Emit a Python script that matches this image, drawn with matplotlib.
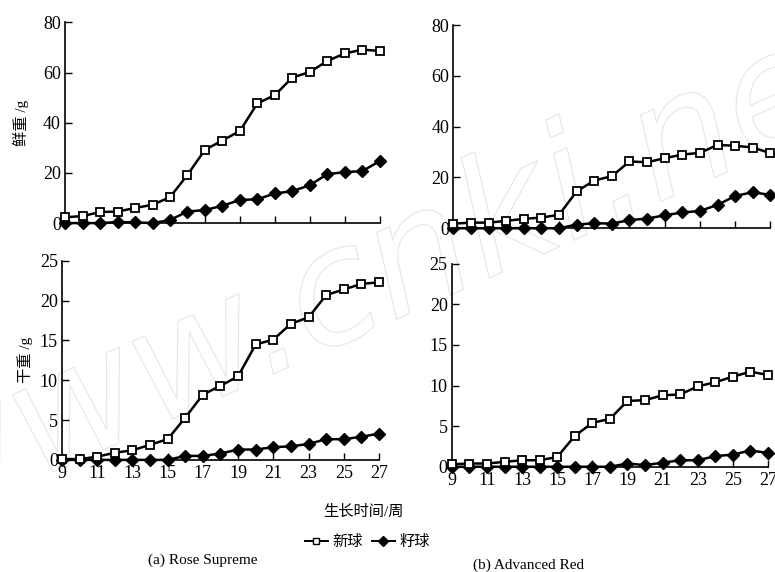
import matplotlib.pyplot as plt
import matplotlib.patheffects as pe
from matplotlib.lines import Line2D

# --- DATA ---
weeks = list(range(9, 28))

# Rose Supreme
rs_fresh_new = [2.3, 2.8, 4.4, 4.6, 6.0, 7.3, 10.3, 19.2, 29.2, 32.9, 36.7, 47.7,
                51.0, 58.0, 60.2, 64.6, 67.6, 69.1, 68.6]
rs_fresh_seed = [0.0, 0.0, 0.0, 0.4, 0.3, 0.0, 1.2, 4.6, 5.2, 6.9, 9.2, 9.5,
                 11.8, 12.7, 15.1, 19.5, 20.3, 20.7, 24.7]
rs_dry_new = [0.1, 0.1, 0.4, 0.9, 1.2, 1.9, 2.6, 5.3, 8.2, 9.3, 10.5, 14.5,
              15.1, 17.1, 17.9, 20.7, 21.4, 22.1, 22.3]
rs_dry_seed = [0.0, 0.0, 0.0, 0.0, 0.0, 0.0, 0.0, 0.5, 0.5, 0.8, 1.3, 1.3,
               1.6, 1.7, 2.0, 2.6, 2.6, 2.9, 3.3]

# Advanced Red
ar_fresh_new = [1.8, 2.2, 2.2, 2.9, 3.7, 4.2, 5.3, 14.5, 18.8, 20.5, 26.3, 26.0,
                27.6, 29.0, 29.7, 32.8, 32.5, 31.8, 29.6]
ar_fresh_seed = [0.0, 0.0, 0.0, 0.0, 0.0, 0.0, 0.0, 1.4, 2.0, 1.8, 3.2, 3.8,
                 5.1, 6.2, 6.8, 9.2, 12.7, 14.2, 13.1]
ar_dry_new = [0.3, 0.4, 0.4, 0.6, 0.8, 0.8, 1.2, 3.8, 5.4, 5.9, 8.1, 8.2,
              8.8, 8.9, 9.9, 10.4, 11.1, 11.7, 11.3]
ar_dry_seed = [0.0, 0.0, 0.0, 0.0, 0.0, 0.0, 0.0, 0.0, 0.0, 0.0, 0.4, 0.2,
               0.5, 0.8, 0.8, 1.3, 1.5, 2.0, 1.7]

fresh_ticks = [0, 20, 40, 60, 80]
dry_ticks = [0, 5, 10, 15, 20, 25]
x_ticks = list(range(9, 28, 2))

FONTS = ['Liberation Serif', 'Noto Sans CJK SC', 'DejaVu Sans']
plt.rcParams['font.family'] = FONTS

fig = plt.figure(figsize=(7.75, 5.72), dpi=100)

# faint outline watermark, kept behind everything
wm = fig.text(0.5, 0.52, 'www.cnki.net', ha='center', va='center', rotation=24,
              fontsize=115, style='italic', family='DejaVu Sans', color='none',
              path_effects=[pe.withStroke(linewidth=0.8, foreground='#e6e6e6')],
              zorder=-5)

# panel positions [left, bottom, width, height]
panels = [
    ([0.084, 0.610, 0.406, 0.351], rs_fresh_new, rs_fresh_seed, fresh_ticks, False),
    ([0.585, 0.601, 0.409, 0.355], ar_fresh_new, ar_fresh_seed, fresh_ticks, False),
    ([0.080, 0.196, 0.409, 0.348], rs_dry_new, rs_dry_seed, dry_ticks, True),
    ([0.583, 0.184, 0.408, 0.355], ar_dry_new, ar_dry_seed, dry_ticks, True),
]

for rect, new, seed, yt, show_x in panels:
    ax = fig.add_axes(rect)
    ax.patch.set_alpha(0)
    ax.plot(weeks, seed, color='black', lw=1.8, marker='D', ms=6,
            mfc='black', mec='black', clip_on=False, zorder=3)
    ax.plot(weeks, new, color='black', lw=1.8, marker='s', ms=5.5,
            mfc='white', mec='black', mew=1.3, clip_on=False, zorder=4)
    ax.set_xlim(9, 27)
    ax.set_ylim(yt[0], yt[-1])
    ax.set_yticks(yt)
    ax.set_xticks(x_ticks)
    if not show_x:
        ax.set_xticklabels([])
    for s in ['top', 'right']:
        ax.spines[s].set_visible(False)
    for s in ['left', 'bottom']:
        ax.spines[s].set_linewidth(1.2)
    ax.tick_params(direction='in', length=5, width=1, labelsize=13, pad=3)
    ax.tick_params(axis='x', pad=4)

fig.text(0.027, 0.785, '鲜重 /g', rotation=90, ha='center', va='center', fontsize=11)
fig.text(0.033, 0.37, '干重 /g', rotation=90, ha='center', va='center', fontsize=11)

fig.text(0.469, 0.105, '生长时间/周', ha='center', va='center', fontsize=11)

handles = [
    Line2D([0], [0], color='black', lw=1.4, marker='s', ms=4, mfc='white', mec='black'),
    Line2D([0], [0], color='black', lw=1.4, marker='D', ms=5, mfc='black'),
]
fig.legend(handles, ['新球', '籽球'], loc='center', bbox_to_anchor=(0.474, 0.052),
           ncol=2, frameon=False, fontsize=11, handlelength=1.5, handletextpad=0.3,
           columnspacing=0.6)

fig.text(0.261, 0.021, '(a) Rose Supreme', ha='center', va='center', fontsize=11)
fig.text(0.682, 0.012, '(b) Advanced Red', ha='center', va='center', fontsize=11)

plt.savefig('out.png', dpi=100)
